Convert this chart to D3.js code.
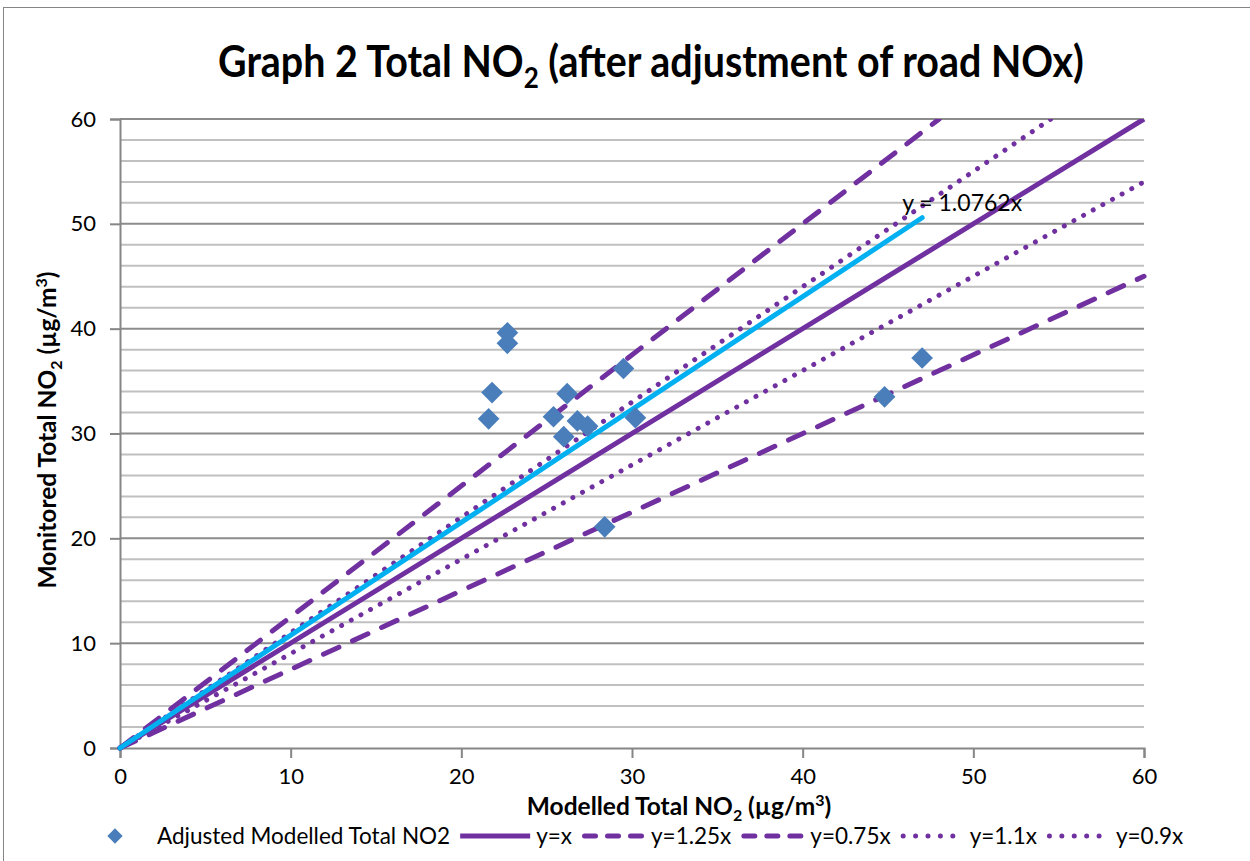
<!DOCTYPE html>
<html>
<head>
<meta charset="utf-8">
<script src="https://cdn.jsdelivr.net/npm/d3@7"></script>
<style>
  body { margin: 0; background: #fff; }
  svg { display: block; font-family: Lato, "Open Sans", sans-serif; }
</style>
</head>
<body>
<svg id="chart" width="1250" height="861"></svg>
<script>
// Adjusted modelled vs monitored total NO2 (µg/m3)
const modelled = [22.7, 22.7, 21.8, 21.6, 26.2, 25.4, 26.8, 27.4, 26.0, 29.5, 30.2, 28.4, 47.0, 44.8];
const monitored = [39.6, 38.6, 33.9, 31.4, 33.8, 31.6, 31.2, 30.7, 29.7, 36.2, 31.5, 21.1, 37.2, 33.5];
const trendSlope = 1.0762;
const refNames = ['y=x', 'y=1.25x', 'y=0.75x', 'y=1.1x', 'y=0.9x'];
const refSlopes = [1, 1.25, 0.75, 1.1, 0.9];
const refStyles = ['solid', 'dash', 'dash', 'dot', 'dot'];
const axisTicks = [0, 10, 20, 30, 40, 50, 60];

const purple = '#7030A0', cyan = '#00B0F0', marker = '#4A7EBB';
const svg = d3.select('#chart');

// outer chart border (only left/top fall inside the page)
svg.append('rect').attr('x', 3.5).attr('y', 7.5).attr('width', 1300).attr('height', 900)
  .attr('fill', 'none').attr('stroke', '#868686');

const x = d3.scaleLinear().domain([0, 60]).range([120, 1144]);
const y = d3.scaleLinear().domain([0, 60]).range([748, 119]);

// gridlines: minor every 2, major every 10
svg.append('g').selectAll('line')
  .data(d3.range(2, 61, 2))
  .enter().append('line')
  .attr('x1', x(0)).attr('x2', x(60))
  .attr('y1', d => y(d)).attr('y2', d => y(d))
  .attr('stroke', d => d % 10 === 0 ? '#8c8c8c' : '#c0c0c0')
  .attr('stroke-width', 2);

// axes
const yAxis = svg.append('g')
  .attr('transform', 'translate(' + x(0) + ',0)')
  .call(d3.axisLeft(y).tickValues(axisTicks).tickSize(10).tickPadding(14));
const xAxis = svg.append('g')
  .attr('transform', 'translate(0,' + y(0) + ')')
  .call(d3.axisBottom(x).tickValues(axisTicks).tickSize(10).tickPadding(10));
[yAxis, xAxis].forEach(a => {
  a.select('.domain').attr('stroke', '#868686').attr('stroke-width', 2);
  a.selectAll('.tick line').attr('stroke', '#868686').attr('stroke-width', 2);
  a.selectAll('.tick text').attr('font-size', 22).attr('fill', '#000')
    .style('font-family', 'Lato, sans-serif');
});

const dashFor = s => s === 'dash' ? '17 15' : s === 'dot' ? '0.01 11' : null;
const line = d3.line().x(d => x(d[0])).y(d => y(d[1]));

svg.append('clipPath').attr('id', 'plot')
  .append('rect').attr('x', x(0) - 5).attr('y', y(60))
  .attr('width', x(60) - x(0) + 10).attr('height', y(0) - y(60) + 5);

const lines = svg.append('g').attr('clip-path', 'url(#plot)');
refSlopes.forEach((m, i) => {
  const xEnd = Math.min(60, 60 / m);
  lines.append('path')
    .attr('d', line([[0, 0], [xEnd, m * xEnd]]))
    .attr('fill', 'none')
    .attr('stroke', purple)
    .attr('stroke-width', 5)
    .attr('stroke-linecap', refStyles[i] === 'solid' ? 'butt' : 'round')
    .attr('stroke-dasharray', dashFor(refStyles[i]));
});

// linear trendline through origin
const xMax = d3.max(modelled);
lines.append('path')
  .attr('d', line([[0, 0], [xMax, trendSlope * xMax]]))
  .attr('fill', 'none').attr('stroke', cyan).attr('stroke-width', 5)
  .attr('stroke-linecap', 'round');

// points
const diamond = d3.symbol().type(d3.symbolDiamond2).size(300);
svg.append('g').selectAll('path')
  .data(modelled.map((v, i) => [v, monitored[i]]))
  .enter().append('path')
  .attr('d', diamond)
  .attr('transform', d => 'translate(' + x(d[0]) + ',' + y(d[1]) + ')')
  .attr('fill', marker);

svg.append('text')
  .attr('x', x(xMax) - 20).attr('y', y(trendSlope * xMax) - 7)
  .attr('font-size', 23).text('y = ' + trendSlope + 'x');

// title, squeezed horizontally to the reference width
const title = svg.append('text').attr('x', 0).attr('y', 0)
  .attr('text-anchor', 'middle').attr('font-size', 44).attr('font-weight', 'bold');
title.append('tspan').text('Graph 2 Total NO');
title.append('tspan').attr('font-size', 29).attr('dy', 11).text('2');
title.append('tspan').attr('dy', -11).text(' (after adjustment of road NOx)');
const tw = title.node().getBBox().width;
title.attr('transform', 'translate(651,77) scale(' + (866 / tw) + ',1)');

// axis titles
function axisTitle(el, label) {
  el.attr('text-anchor', 'middle').attr('font-size', 24.5).attr('font-weight', 'bold');
  el.append('tspan').text(label + ' NO');
  el.append('tspan').attr('font-size', 16).attr('dy', 6).text('2');
  el.append('tspan').attr('dy', -6).text(' (µg/m');
  el.append('tspan').attr('font-size', 16).attr('dy', -9).text('3');
  el.append('tspan').attr('dy', 9).text(')');
}
axisTitle(svg.append('text').attr('x', 679).attr('y', 815), 'Modelled Total');
axisTitle(svg.append('text').attr('transform', 'translate(56,430) rotate(-90)'), 'Monitored Total');

// legend
const legend = svg.append('g').attr('transform', 'translate(0,836)');
legend.append('path').attr('d', d3.symbol().type(d3.symbolDiamond2).size(150))
  .attr('transform', 'translate(115,0)').attr('fill', marker);
let lx = 157;
const lt = legend.append('text').attr('x', lx).attr('y', 8).attr('font-size', 22.5)
  .text('Adjusted Modelled Total NO2');
lx += lt.node().getComputedTextLength() + 10;
refNames.forEach((name, i) => {
  const style = refStyles[i];
  const dash = style === 'dash' ? '11 12' : style === 'dot' ? '0.01 12.4' : null;
  const len = style === 'solid' ? 70 : 63;
  const inset = style === 'solid' ? 0 : 2.5;
  legend.append('line').attr('x1', lx + inset).attr('x2', lx + len - inset).attr('y1', 0).attr('y2', 0)
    .attr('stroke', purple).attr('stroke-width', 5)
    .attr('stroke-linecap', style === 'solid' ? 'butt' : 'round')
    .attr('stroke-dasharray', dash);
  lx += len + 6;
  const t = legend.append('text').attr('x', lx).attr('y', 8).attr('font-size', 22.5).text(name);
  lx += t.node().getComputedTextLength() + 10;
});
</script>
</body>
</html>
